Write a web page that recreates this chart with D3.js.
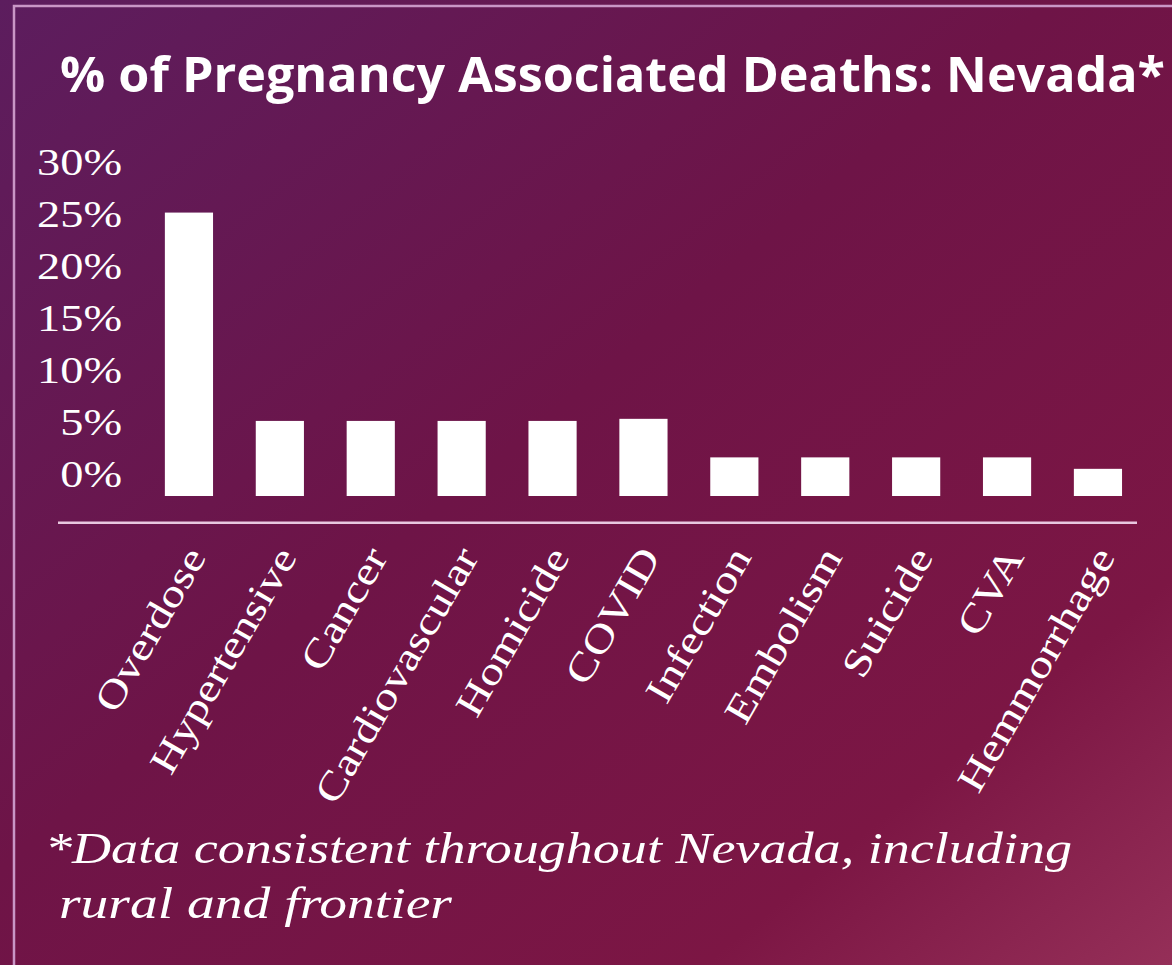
<!DOCTYPE html>
<html>
<head>
<meta charset="utf-8">
<script src="https://cdn.jsdelivr.net/npm/d3@7"></script>
<style>
  html, body { margin: 0; padding: 0; background: #6d1447; }
  svg { display: block; }
</style>
</head>
<body>
<div id="chart"></div>
<script>
var title = "% of Pregnancy Associated Deaths: Nevada*";
var categories = ["Overdose", "Hypertensive", "Cancer", "Cardiovascular", "Homicide",
    "COVID", "Infection", "Embolism", "Suicide", "CVA", "Hemmorrhage"];
var values = [25, 5, 5, 5, 5, 5.2, 1.5, 1.5, 1.5, 1.5, 0.4]; // percent
var yTicks = [0, 5, 10, 15, 20, 25, 30];
var footnote = ["*Data consistent throughout Nevada, including", " rural and frontier"];

var size = [1172, 965];
var serifWiden = 1.22; // original serif is wider than Liberation Serif

var svg = d3.select("#chart").append("svg")
    .attr("width", size[0])
    .attr("height", size[1]);

// background gradient
var defs = svg.append("defs");
var grad = defs.append("linearGradient")
    .attr("id", "bg")
    .attr("x1", 0).attr("y1", 0)
    .attr("x2", 1).attr("y2", 1);
[[0, "#5c1d5e"], [0.45, "#6e1447"], [0.8, "#7c1644"], [1, "#952f58"]].forEach(function (s) {
    grad.append("stop").attr("offset", s[0]).attr("stop-color", s[1]);
});
svg.append("rect")
    .attr("width", size[0])
    .attr("height", size[1])
    .attr("fill", "url(#bg)");

// frame lines (top + left)
svg.append("path")
    .attr("d", "M14," + size[1] + "V6H" + size[0])
    .attr("fill", "none")
    .attr("stroke", "#c996c6")
    .attr("stroke-width", 2.5);

svg.append("text")
    .attr("x", 60)
    .attr("y", 92)
    .attr("fill", "#fff")
    .attr("font-family", "Open Sans, sans-serif")
    .attr("font-weight", "bold")
    .attr("font-size", 48)
    .attr("textLength", 1105)
    .attr("lengthAdjust", "spacingAndGlyphs")
    .text(title);

var y = d3.scaleLinear().domain([0, 30]).range([473, 160.5]);
var x = d3.scaleBand()
    .domain(categories)
    .range([143.5, 1143.4])
    .paddingInner(0.47)
    .paddingOuter(0.235);

var barBottom = y(0) + 23; // bars in the original run below the 0% label

// y axis labels, no line, no ticks
var yAxis = svg.append("g")
    .attr("transform", "translate(122,0)")
    .call(d3.axisLeft(y).tickValues(yTicks).tickSize(0).tickFormat(function (d) { return d + "%"; }));
yAxis.select(".domain").remove();
yAxis.selectAll("text")
    .attr("x", 0)
    .attr("dy", "0.36em")
    .attr("fill", "#fff")
    .attr("font-family", "Liberation Serif, serif")
    .attr("font-size", 38)
    .attr("transform", "scale(" + serifWiden + ",1)");

svg.append("g").selectAll("rect")
    .data(values)
    .enter()
    .append("rect")
    .attr("x", function (d, i) { return x(categories[i]); })
    .attr("width", x.bandwidth())
    .attr("y", function (d) { return y(d); })
    .attr("height", function (d) { return barBottom - y(d); })
    .attr("fill", "#fff");

// baseline under the bars
svg.append("line")
    .attr("x1", 58).attr("x2", 1137)
    .attr("y1", 522.7).attr("y2", 522.7)
    .attr("stroke", "#e8c8e0")
    .attr("stroke-width", 2.5);

// rotated category labels
svg.append("g").selectAll("text")
    .data(categories)
    .enter()
    .append("text")
    .attr("transform", function (d) {
        return "translate(" + (x(d) + x.bandwidth() / 2 + 18) + ",557) rotate(-60) scale(" + serifWiden + ",1)";
    })
    .attr("text-anchor", "end")
    .attr("fill", "#fff")
    .attr("font-family", "Liberation Serif, serif")
    .attr("font-size", 39)
    .text(function (d) { return d; });

svg.append("g").selectAll("text")
    .data(footnote)
    .enter()
    .append("text")
    .attr("x", 45)
    .attr("y", function (d, i) { return 863 + i * 55; })
    .attr("fill", "#fff")
    .attr("font-family", "Liberation Serif, serif")
    .attr("font-style", "italic")
    .attr("font-size", 44)
    .attr("xml:space", "preserve")
    .attr("textLength", function (d, i) { return i === 0 ? 1027 : 407; })
    .attr("lengthAdjust", "spacingAndGlyphs")
    .text(function (d) { return d; });
</script>
</body>
</html>
